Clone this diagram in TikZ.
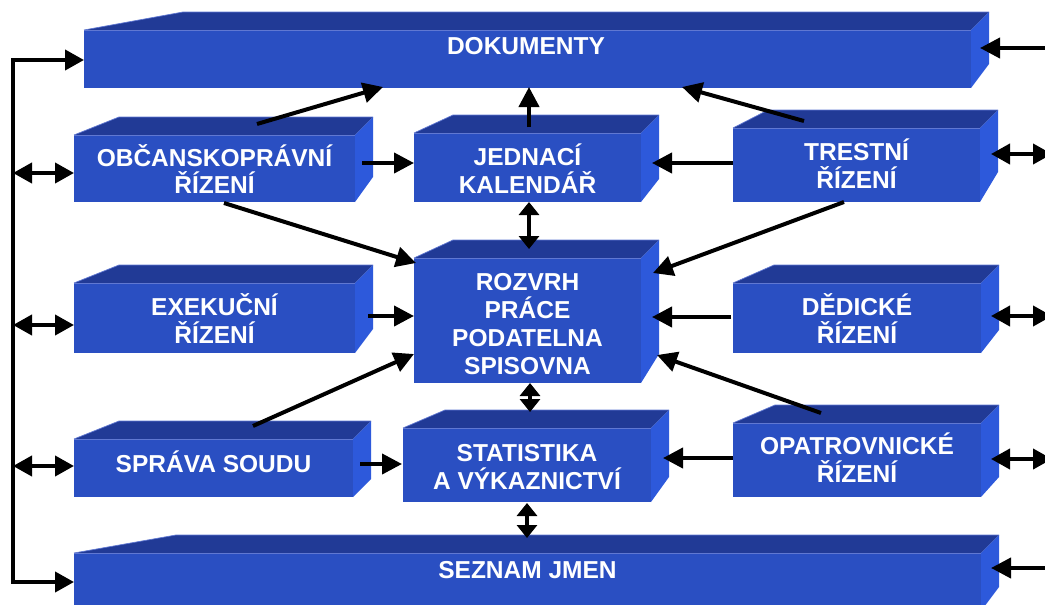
\documentclass[tikz,border=0pt]{standalone}
\usepackage{fontspec}
\setmainfont{Liberation Sans}
\usetikzlibrary{arrows.meta,calc}
\definecolor{frontc}{RGB}{42,79,194}
\definecolor{topc}{RGB}{33,58,150}
\definecolor{sidec}{RGB}{45,89,219}
\definecolor{edgec}{RGB}{96,120,210}
% #1 name, #2 x1, #3 y1, #4 x2, #5 y2, #6 left slant of top face, #7 rise of side bottom
\newcommand\cubebox[7]{%
  \fill[topc] (#2,#3) -- (#2+#6,#3-18) -- (#4+18,#3-18) -- (#4,#3) -- cycle;
  \draw[edgec,line width=0.7pt] (#2,#3) -- (#2+#6,#3-18) -- (#4+18,#3-18);
  \fill[sidec] (#4,#3) -- (#4+18,#3-18) -- (#4+18,#5-#7) -- (#4,#5) -- cycle;
  \node[frontbox,minimum width={(#4-#2)*1pt},minimum height={(#5-#3)*1pt}] (#1) at ({(#2+#4)/2},{(#3+#5)/2}) {};
  \draw[edgec,line width=0.7pt] (#2,#3) -- (#4,#3);
}
\newcommand\boxtext[4]{\node[lbl] (#1) at (#2,#3) {#4};}
\begin{document}
\begin{tikzpicture}[x=1pt,y=-1pt,
  frontbox/.style={fill=frontc,inner sep=0pt,outer sep=0pt},
  lbl/.style={font=\bfseries\fontsize{24.5}{28}\selectfont,text=white,anchor=base,inner sep=0pt},
  arr/.style={line width=4pt,-{Triangle[length=20pt,width=20pt]}},
  darr/.style={line width=4pt,{Triangle[length=19pt,width=20pt]}-{Triangle[length=19pt,width=20pt]}},
  vdarr/.style={line width=4pt,{Triangle[length=13pt,width=20pt]}-{Triangle[length=13pt,width=20pt]}}]
\useasboundingbox (0,0) rectangle (1045,605);
\clip (0,0) rectangle (1045,605);
\fill[white] (0,0) rectangle (1045,605);

% boxes
\cubebox{dok}{84}{30}{971}{88}{99}{24}
\cubebox{obc}{74}{135}{355}{202}{45}{25}
\cubebox{jed}{414}{133}{641}{202}{39}{23}
\cubebox{tre}{733}{128}{980}{202}{35}{30}
\cubebox{roz}{414}{258}{641}{383}{39}{29}
\cubebox{exe}{74}{283}{355}{353}{45}{24}
\cubebox{ded}{733}{283}{981}{353}{41}{23}
\cubebox{spr}{74}{439}{353}{497}{45}{18}
\cubebox{sta}{403}{428}{651}{502}{42}{25}
\cubebox{opa}{733}{423}{981}{497}{42}{20}
\cubebox{sez}{74}{553}{981}{611}{102}{24}

% texts
\boxtext{dokt}{526}{54}{DOKUMENTY}
\boxtext{obct1}{214.5}{166}{OBČANSKOPRÁVNÍ}
\boxtext{obct2}{214.5}{193}{ŘÍZENÍ}
\boxtext{jedt1}{527.5}{165}{JEDNACÍ}
\boxtext{jedt2}{527.5}{193}{KALENDÁŘ}
\boxtext{tret1}{856.5}{160}{TRESTNÍ}
\boxtext{tret2}{856.5}{188}{ŘÍZENÍ}
\boxtext{rozt1}{527.5}{290}{ROZVRH}
\boxtext{rozt2}{527.5}{318}{PRÁCE}
\boxtext{rozt3}{527.5}{346}{PODATELNA}
\boxtext{rozt4}{527.5}{374}{SPISOVNA}
\boxtext{exet1}{214.5}{315.5}{EXEKUČNÍ}
\boxtext{exet2}{214.5}{343}{ŘÍZENÍ}
\boxtext{dedt1}{857}{315.5}{DĚDICKÉ}
\boxtext{dedt2}{857}{343}{ŘÍZENÍ}
\boxtext{sprt}{213.5}{472}{SPRÁVA SOUDU}
\boxtext{stat1}{527}{461}{STATISTIKA}
\boxtext{stat2}{527}{489}{A VÝKAZNICTVÍ}
\boxtext{opat1}{857}{454}{OPATROVNICKÉ}
\boxtext{opat2}{857}{482}{ŘÍZENÍ}
\boxtext{sezt}{527.5}{578}{SEZNAM JMEN}

% left bus
\coordinate (busT) at (13,60);
\coordinate (busB) at (13,582);
\draw[darr,line join=miter] ($(dok.west)+(0,1)$) -- (busT) -- (busB) -- (sez.west);
\draw[darr] ($(obc.west)+(-61,4.5)$) -- ($(obc.west)+(0,4.5)$);
\draw[darr] ($(exe.west)+(-61,7)$) -- ($(exe.west)+(0,7)$);
\draw[darr] ($(spr.west)+(-61,-2)$) -- ($(spr.west)+(0,-2)$);

% right side
\draw[arr] ($(dok.east)+(90,-11)$) -- ($(dok.east)+(9,-11)$);
\draw[darr] ($(tre.east)+(11,-11)$) -- ($(tre.east)+(72,-11)$);
\draw[darr] ($(ded.east)+(10,-2)$) -- ($(ded.east)+(71,-2)$);
\draw[darr] ($(opa.east)+(10,-1)$) -- ($(opa.east)+(71,-1)$);
\draw[arr] ($(sez.east)+(90,-14)$) -- ($(sez.east)+(10,-14)$);

% into DOKUMENTY
\draw[arr] ($(obc.north)+(42.5,-11)$) -- ($(dok.south)+(-144.5,-1)$);
\draw[arr] ($(jed.north)+(1.5,-6)$) -- ($(dok.south)+(1.5,-1)$);
\draw[arr] ($(tre.north)+(-52.5,-7)$) -- ($(dok.south)+(154.5,-1)$);

% into JEDNACÍ KALENDÁŘ
\draw[arr] ($(obc.east)+(7,-5.5)$) -- ($(jed.west)+(0,-4.5)$);
\draw[arr] ($(tre.west)+(0,-2)$) -- ($(jed.east)+(11,-4.5)$);
\draw[vdarr] ($(jed.south)+(1.5,0)$) -- ($(roz.north)+(1.5,-9)$);

% into ROZVRH
\draw[arr] ($(obc.south)+(9.5,1)$) -- ($(roz.north west)+(2,5)$);
\draw[arr] ($(tre.south)+(-12.5,0)$) -- ($(roz.north east)+(12,15)$);
\draw[arr] ($(exe.east)+(13,-2)$) -- ($(roz.west)+(0,-4.5)$);
\draw[arr] ($(ded.west)+(-2,-1)$) -- ($(roz.east)+(11,-3.5)$);
\draw[arr] ($(spr.north)+(39.5,-13)$) -- ($(roz.south west)+(0,-29)$);
\draw[arr] ($(opa.north)+(-36,-10)$) -- ($(roz.south east)+(16,-28)$);
\draw[vdarr] ($(roz.south)+(2.5,0)$) -- ($(sta.north)+(3,-16)$);

% into STATISTIKA
\draw[arr] ($(spr.east)+(7,-4)$) -- ($(sta.west)+(-1,-1)$);
\draw[arr] ($(opa.west)+(0,-2)$) -- ($(sta.east)+(12,-7)$);
\draw[vdarr] ($(sta.south)+(0,1)$) -- ($(sez.north)+(-0.5,-15)$);
\end{tikzpicture}
\end{document}
